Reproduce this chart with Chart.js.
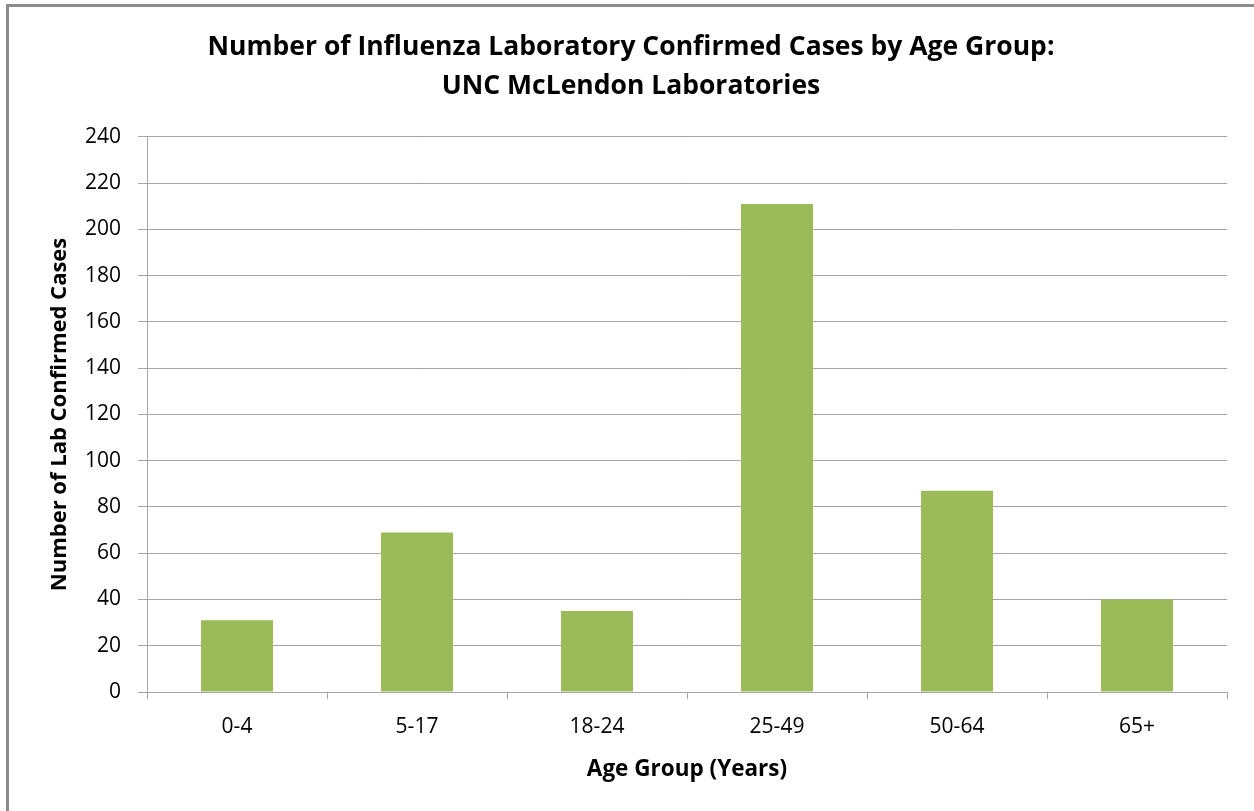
<!DOCTYPE html>
<html>
<head>
<meta charset="utf-8">
<script src="https://cdn.jsdelivr.net/npm/chart.js@4"></script>
<style>
  html, body { margin: 0; padding: 0; background: #fff; }
  #wrap { position: relative; width: 1254px; height: 811px; }
  #frame {
    position: absolute; left: 6px; top: 4px; right: -10px; bottom: -10px;
    border-left: 3px solid #8c8c8c; border-top: 3px solid #8c8c8c;
    pointer-events: none;
  }
</style>
</head>
<body>
<div id="wrap">
  <canvas id="flu" width="1254" height="811"></canvas>
  <div id="frame"></div>
</div>
<script>
const ageGroups = ["0-4", "5-17", "18-24", "25-49", "50-64", "65+"];
const labCases = [31, 69, 35, 211, 87, 40];
const titleLines = [
  "Number of Influenza Laboratory Confirmed Cases by Age Group:",
  "UNC McLendon Laboratories"
];
const yTitle = "Number of Lab Confirmed Cases";
const xTitle = "Age Group (Years)";

const FONT = "Open Sans";
const gridColor = "#a6a6a6";
const barColor = "#9bbb59";

new Chart(document.getElementById("flu"), {
  type: "bar",
  data: {
    labels: ageGroups,
    datasets: [
      {
        label: "Cases",
        data: labCases,
        backgroundColor: barColor,
        borderWidth: 0,
        barPercentage: 0.4,
        categoryPercentage: 1
      }
    ]
  },
  options: {
    responsive: false,
    animation: false,
    // left/right padding keeps the title centred like the original frame
    layout: { padding: { left: 35, right: 27, top: 0, bottom: 0 } },
    plugins: {
      legend: { display: false },
      tooltip: { enabled: false },
      title: {
        display: true,
        text: titleLines,
        color: "#000",
        font: { family: FONT, size: 26.5, weight: "bold", lineHeight: 1.47 },
        padding: { top: 28, bottom: 31 }
      }
    },
    scales: {
      x: {
        afterFit: (scale) => { scale.height = 119; },
        grid: {
          drawOnChartArea: false,
          color: gridColor,
          tickLength: 7,
          offset: true
        },
        border: { color: gridColor, width: 1 },
        ticks: {
          color: "#000",
          padding: 15,
          font: { family: FONT, size: 21 }
        },
        title: {
          display: true,
          text: xTitle,
          color: "#000",
          font: { family: FONT, size: 22.5, weight: "bold" },
          padding: { top: 28, bottom: 28 }
        }
      },
      y: {
        min: 0,
        max: 240,
        afterFit: (scale) => { scale.width = 112; },
        grid: { color: gridColor, tickLength: 9 },
        border: { color: gridColor, width: 1 },
        ticks: {
          stepSize: 20,
          color: "#000",
          padding: 17,
          font: { family: FONT, size: 21 }
        },
        title: {
          display: true,
          text: yTitle,
          color: "#000",
          font: { family: FONT, size: 22, weight: "bold" },
          padding: { top: 12, bottom: 12 }
        }
      }
    }
  }
});
</script>
</body>
</html>
